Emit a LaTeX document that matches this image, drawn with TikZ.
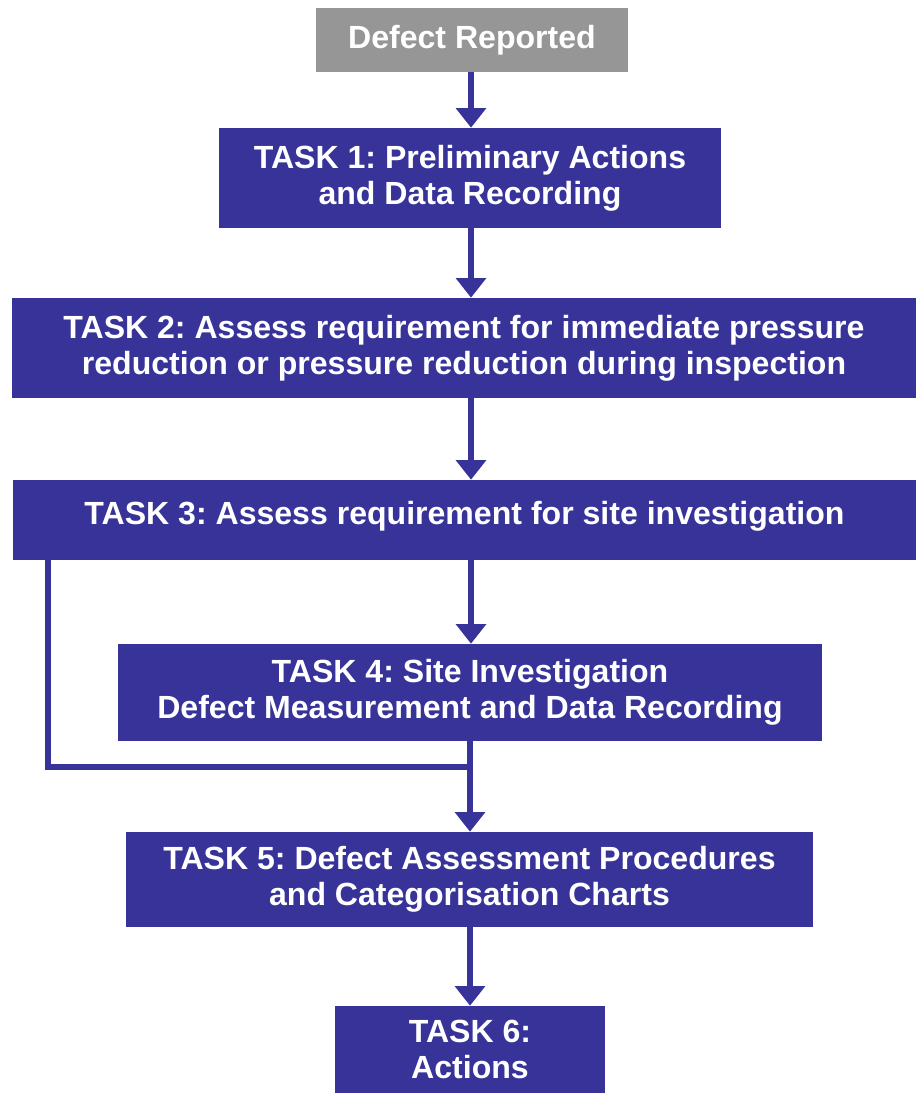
\documentclass[tikz,border=0pt]{standalone}
\usepackage{fontspec}
\setmainfont{Liberation Sans}
\usetikzlibrary{arrows.meta}
\definecolor{taskblue}{RGB}{55,51,153}
\definecolor{reportgrey}{RGB}{150,150,150}
\frenchspacing
\tikzset{
    taskbox/.style={fill=taskblue, text=white, align=center, inner sep=0pt,
        font=\fontsize{22.8}{25.6}\selectfont\bfseries},
    startbox/.style={taskbox, fill=reportgrey},
    flow/.style={draw=taskblue, line width=4.3pt, -{Triangle[width=21pt,length=14pt]}},
    link/.style={draw=taskblue, line width=4.3pt}
}
\begin{document}
\begin{tikzpicture}[x=0.025cm, y=-0.025cm]

    % Fix the page to the reference size
    \useasboundingbox (0,0) rectangle (917,1095);

    % Draw the boxes of the procedure
    \node[startbox, minimum width=7.8cm, minimum height=1.6cm] (report) at (472,40) {Defect Reported};
    \node[taskbox, minimum width=12.55cm, minimum height=2.5cm] (task1) at (470,178)
        {TASK 1: Preliminary Actions\\and Data Recording};
    \node[taskbox, minimum width=22.6cm, minimum height=2.5cm] (task2) at (464,348)
        {TASK 2: Assess requirement for immediate pressure\\reduction or pressure reduction during inspection};
    \node[taskbox, minimum width=22.575cm, minimum height=2cm] (task3) at (464.5,520)
        {\raisebox{10pt}{TASK 3: Assess requirement for site investigation}};
    \node[taskbox, minimum width=17.6cm, minimum height=2.425cm] (task4) at (470,692.5)
        {TASK 4: Site Investigation\\Defect Measurement and Data Recording};
    \node[taskbox, minimum width=17.175cm, minimum height=2.375cm] (task5) at (469.5,879.5)
        {TASK 5: Defect Assessment Procedures\\and Categorisation Charts};
    \node[taskbox, minimum width=6.75cm, minimum height=2.175cm] (task6) at (470,1049.5)
        {TASK 6:\\Actions};

    % Helper coordinates for the connectors
    \coordinate (spine) at (471,0);
    \coordinate (bypass) at (48,0);
    \coordinate (join) at (470,767);

    % Draw the connectors
    \draw[flow] (report.south -| spine) -- (task1.north -| spine);
    \draw[flow] (task1.south -| spine) -- (task2.north -| spine);
    \draw[flow] (task2.south -| spine) -- (task3.north -| spine);
    \draw[flow] (task3.south -| spine) -- (task4.north -| spine);
    \draw[flow] (task4.south -| join) -- (task5.north -| join);
    \draw[flow] (task5.south -| join) -- (task6.north -| join);
    \draw[link] (task3.south -| bypass) |- (join);

\end{tikzpicture}
\end{document}
